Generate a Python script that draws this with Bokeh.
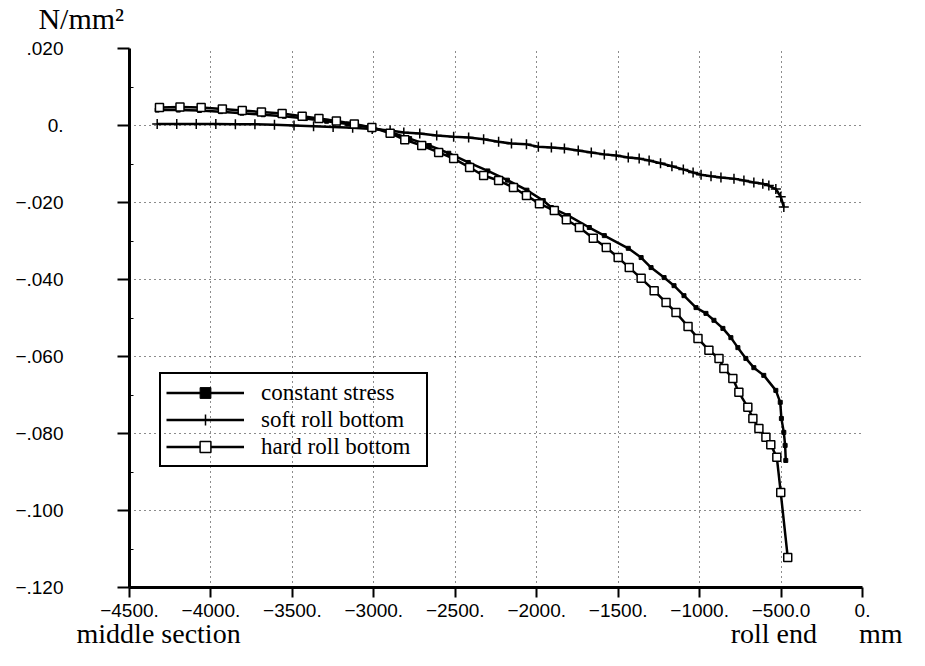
from bokeh.plotting import figure
from bokeh.models import FixedTicker, Label, Legend, LegendItem
from bokeh.embed import file_html
from bokeh.resources import INLINE

# ---- data ----
const_x = [-4330, -4200, -4070, -3940, -3810, -3680, -3550, -3420, -3290, -3160, -3030, -2900,
           -2780, -2660, -2540, -2420, -2300, -2180, -2060, -1960, -1910, -1806, -1677, -1585,
           -1438, -1359, -1298, -1218, -1157, -1096, -1022, -961, -912, -857, -808, -765, -716,
           -667, -606, -532, -505, -498, -483, -475, -471]
const_y = [0.0040, 0.0040, 0.0039, 0.0036, 0.0032, 0.0028, 0.0024, 0.0018, 0.0011, 0.0004, -0.0004, -0.0017,
           -0.0034, -0.0052, -0.0072, -0.0096, -0.0118, -0.0142, -0.0168, -0.0195, -0.0213, -0.0234, -0.0265, -0.0286,
           -0.0319, -0.0343, -0.0369, -0.0395, -0.0416, -0.0442, -0.0473, -0.0488, -0.0506, -0.0527, -0.0551, -0.0577, -0.0605,
           -0.0629, -0.0649, -0.0688, -0.0719, -0.0761, -0.0797, -0.0831, -0.0870]

soft_x = [-4330, -4210, -4090, -3970, -3850, -3730, -3610, -3490, -3370, -3250, -3130, -3010,
          -2900, -2816, -2718, -2614, -2510, -2418, -2326, -2234, -2155, -2063, -1990, -1910,
          -1830, -1745, -1665, -1585, -1512, -1438, -1371, -1310, -1240, -1170, -1100, -1040,
          -991, -930, -869, -789, -728, -667, -612, -575, -532, -502, -483]
soft_y = [0.0004, 0.0004, 0.0004, 0.0004, 0.0003, 0.0003, 0.0002, 0.0000, -0.0002, -0.0004, -0.0006, -0.0009,
          -0.0013, -0.0018, -0.0021, -0.0026, -0.0029, -0.0031, -0.0036, -0.0042, -0.0047, -0.0049, -0.0055, -0.0057,
          -0.0060, -0.0065, -0.0070, -0.0075, -0.0078, -0.0083, -0.0086, -0.0091, -0.0098, -0.0106, -0.0114, -0.0122,
          -0.0128, -0.0132, -0.0135, -0.0138, -0.0143, -0.0148, -0.0151, -0.0156, -0.0165, -0.0185, -0.0212]

hard_x = [-4316, -4190, -4060, -3930, -3808, -3690, -3563, -3440, -3337, -3230, -3120, -3012,
          -2900, -2810, -2706, -2602, -2510, -2412, -2326, -2234, -2143, -2063, -1983, -1892,
          -1818, -1738, -1653, -1573, -1500, -1432, -1359, -1279, -1206, -1145, -1071, -1010,
          -943, -881, -851, -796, -759, -704, -673, -636, -593, -563, -526, -502, -459]
hard_y = [0.0047, 0.0048, 0.0047, 0.0043, 0.0039, 0.0035, 0.0031, 0.0024, 0.0018, 0.0012, 0.0004, -0.0005,
          -0.0020, -0.0037, -0.0052, -0.0070, -0.0086, -0.0109, -0.0130, -0.0143, -0.0161, -0.0182, -0.0203, -0.0221,
          -0.0245, -0.0265, -0.0293, -0.0317, -0.0343, -0.0369, -0.0397, -0.0429, -0.0460, -0.0486, -0.0522, -0.0553,
          -0.0584, -0.0605, -0.0631, -0.0657, -0.0693, -0.0732, -0.0761, -0.0787, -0.0810, -0.0829, -0.0862, -0.0953, -0.1122]

x_ticks = [-4500, -4000, -3500, -3000, -2500, -2000, -1500, -1000, -500, 0]
x_labels = ["\u22124500.", "\u22124000.", "\u22123500.", "\u22123000.", "\u22122500.",
            "\u22122000.", "\u22121500.", "\u22121000.", "\u2212500.0", "0."]
y_ticks = [0.02, 0.0, -0.02, -0.04, -0.06, -0.08, -0.1, -0.12]
y_labels = [".020", "0.", "\u2212.020", "\u2212.040", "\u2212.060", "\u2212.080", "\u2212.100", "\u2212.120"]
y_minor = [0.01, -0.01, -0.03, -0.05, -0.07, -0.09, -0.11]

series_names = ["constant stress", "soft roll bottom", "hard roll bottom"]
unit_text = "N/mm\u00b2"
bottom_words = ["middle section", "roll end", "mm"]

# ---- figure ----
p = figure(width=909, height=650, x_range=(-4500, 0), y_range=(-0.12, 0.02),
           output_backend="svg", toolbar_location=None,
           min_border_left=129, min_border_right=47, min_border_top=48, min_border_bottom=40)
p.outline_line_color = None
p.background_fill_color = "white"
p.border_fill_color = "white"

for ax, ticks, labels in ((p.xaxis, x_ticks, x_labels), (p.yaxis, y_ticks, y_labels)):
    ax.major_label_overrides = dict(zip(ticks, labels))
    ax.axis_line_color = "black"
    ax.axis_line_width = 3
    ax.major_tick_line_color = "black"
    ax.major_tick_line_width = 2
    ax.major_tick_in = 0
    ax.minor_tick_line_color = "black"
    ax.minor_tick_line_width = 1
    ax.minor_tick_in = 4
    ax.minor_tick_out = 0
    ax.major_label_text_font = "Liberation Sans"
    ax.major_label_text_font_size = "19px"
    ax.major_label_text_color = "black"

p.xaxis.major_tick_out = 10
p.yaxis.major_tick_out = 12
p.xaxis.ticker = FixedTicker(ticks=x_ticks, minor_ticks=[])
p.yaxis.ticker = FixedTicker(ticks=y_ticks, minor_ticks=y_minor)
p.xaxis.major_label_standoff = 6
p.yaxis.major_label_standoff = 54

for g in (p.xgrid, p.ygrid):
    g.grid_line_color = "black"
    g.grid_line_width = 1
    g.grid_line_dash = "1 4"
    g.grid_line_alpha = 0.9

# ---- series ----
l1 = p.line(const_x, const_y, line_color="black", line_width=2.5)
s1 = p.scatter(const_x, const_y, marker="square", size=4, fill_color="black", line_color="black")
l2 = p.line(soft_x, soft_y, line_color="black", line_width=2.5)
s2 = p.scatter(soft_x, soft_y, marker="cross", size=10, line_color="black", line_width=1.5)
l3 = p.line(hard_x, hard_y, line_color="black", line_width=2.5)
s3 = p.scatter(hard_x, hard_y, marker="square", size=8, fill_color="white", line_color="black", line_width=1.5)

legend = Legend(items=[LegendItem(label=series_names[0], renderers=[l1, s1]),
                       LegendItem(label=series_names[1], renderers=[l2, s2]),
                       LegendItem(label=series_names[2], renderers=[l3, s3])],
                location=(30, 120), margin=0, padding=5, spacing=0,
                glyph_width=78, glyph_height=27, label_height=27, label_width=160,
                label_standoff=17,
                label_text_font="Liberation Serif", label_text_font_size="23px",
                label_text_color="black",
                border_line_color="black", border_line_width=2, border_line_alpha=1.0,
                background_fill_alpha=0)
p.add_layout(legend)

# ---- free texts (in side panels so they are not clipped to the frame) ----
NB = "\u00a0"
bottom_text = bottom_words[0] + NB * 70 + bottom_words[1] + NB * 6 + bottom_words[2]
p.add_layout(Label(x=-5059, y=0.0277, text=unit_text, text_font="Liberation Serif",
                   text_font_size="30px", text_color="black", text_baseline="alphabetic"), "above")
p.add_layout(Label(x=-4825, y=-0.1320, text=bottom_text, text_font="Liberation Serif",
                   text_font_size="28px", text_color="black", text_baseline="alphabetic"), "below")

open("out.html", "w").write(file_html(p, INLINE))
